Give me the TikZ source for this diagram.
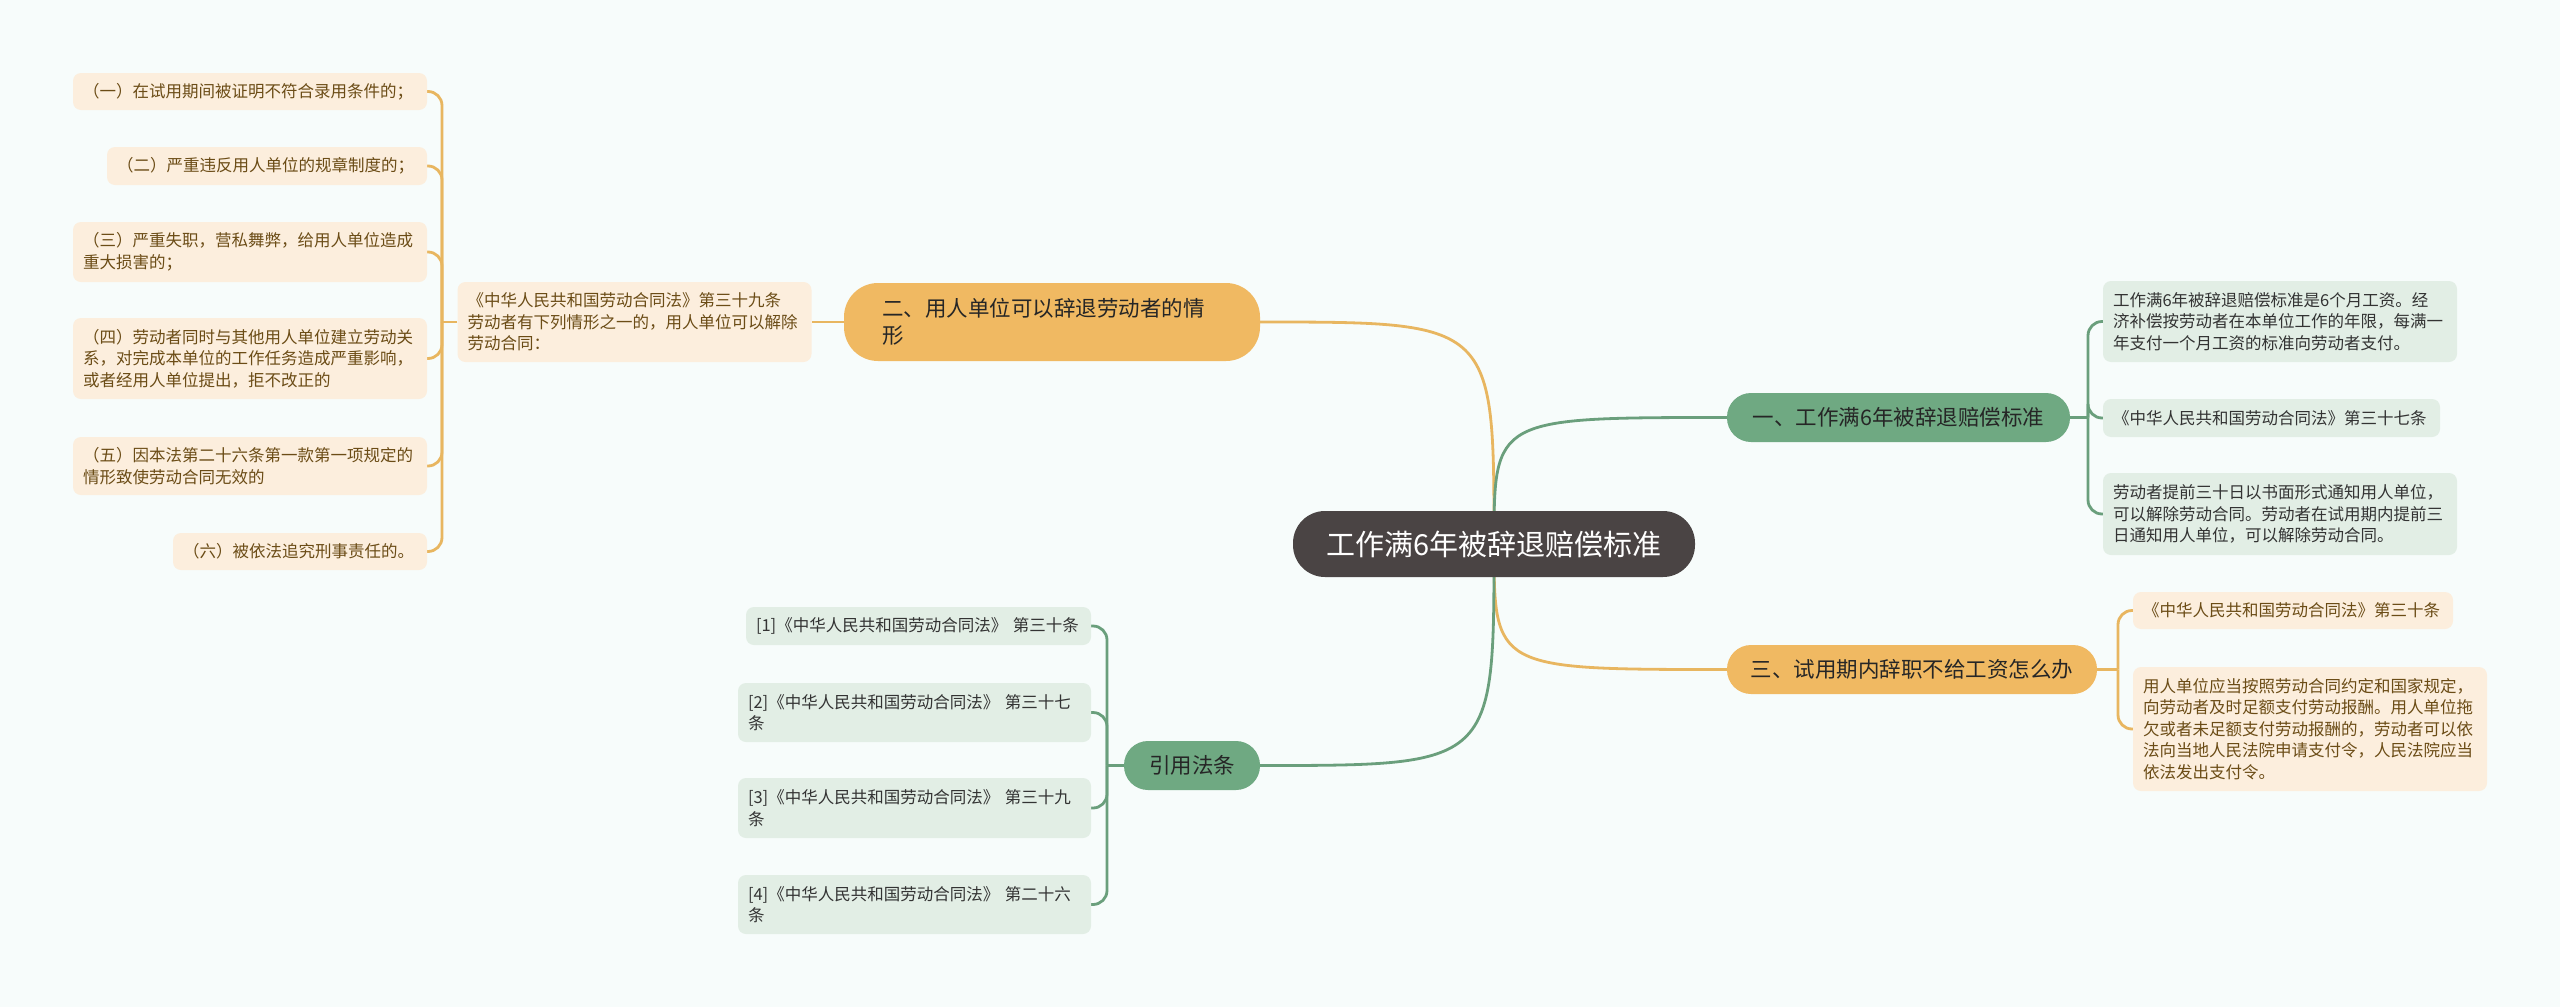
\documentclass[tikz,border=0pt]{standalone}
\usepackage{fontspec}
\setmainfont{Noto Sans CJK SC}
\definecolor{bgc}{HTML}{F7FCFB}
\definecolor{oline}{HTML}{E8B660}
\definecolor{ofill}{HTML}{F0B962}
\definecolor{gline}{HTML}{6A9F7C}
\definecolor{gfill}{HTML}{6FA982}
\definecolor{cfill}{HTML}{4A4444}
\definecolor{peach}{HTML}{FCEEDD}
\definecolor{ptext}{HTML}{6B4C16}
\definecolor{gleaf}{HTML}{E2EEE5}
\definecolor{gtext}{HTML}{333333}
\pgfdeclarelayer{bg}
\pgfdeclarelayer{edges}
\pgfsetlayers{bg,edges,main}
\tikzset{
  leafO/.style={fill=peach, rounded corners=8pt, text=ptext, font=\fontsize{16.5}{21.5}\selectfont, inner xsep=10pt, inner ysep=0pt, align=left},
  leafG/.style={fill=gleaf, rounded corners=8pt, text=gtext, font=\fontsize{16.5}{21.5}\selectfont, inner xsep=10pt, inner ysep=0pt, align=left},
  refG/.style={leafG},
  mainO/.style={fill=ofill, rounded corners=24pt, text={black!85}, font=\fontsize{21.5}{27}\selectfont, inner ysep=0pt, minimum height=49pt},
  mainG/.style={fill=gfill, rounded corners=24pt, text={black!85}, font=\fontsize{21.5}{27}\selectfont, inner ysep=0pt, minimum height=49pt},
  olink/.style={draw=oline, line width=2.8pt},
  glink/.style={draw=gline, line width=2.8pt},
  obr/.style={olink, rounded corners=14pt},
  gbr/.style={glink, rounded corners=14pt},
}
\begin{document}
\begin{tikzpicture}[x=1pt, y=-1pt]
\begin{pgfonlayer}{bg}
\fill[bgc] (0,0) rectangle (2560,1007);
\end{pgfonlayer}
\useasboundingbox (0,0) rectangle (2560,1007);

% central
\node[fill=cfill, rounded corners=32pt, text=white, font=\fontsize{29}{34}\selectfont, minimum width=402pt, minimum height=66pt, inner ysep=0pt] (c) at (1494,544) {工作满6年被辞退赔偿标准};

% main branches
\node[mainO, text width=340pt, inner xsep=38pt, minimum height=78pt, rounded corners=34pt, align=left] (b2) at (1052,322) {二、用人单位可以辞退劳动者的情\\形};
\node[mainG, minimum width=343pt] (b1) at (1898.5,417.5) {一、工作满6年被辞退赔偿标准};
\node[mainO, minimum width=370pt] (b3) at (1912,669.5) {三、试用期内辞职不给工资怎么办};
\node[mainG, minimum width=136pt] (b4) at (1192,765.5) {引用法条};

% left branch (二)
\node[leafO, text width=334pt, minimum height=80pt] (cit) at (634.5,322) {《中华人民共和国劳动合同法》第三十九条\\劳动者有下列情形之一的，用人单位可以解除\\劳动合同：};
\node[leafO, text width=334pt, minimum height=37pt] (i1) at (250,91.5) {（一）在试用期间被证明不符合录用条件的；};
\node[leafO, text width=300pt, minimum height=38pt] (i2) at (267,166) {（二）严重违反用人单位的规章制度的；};
\node[leafO, text width=334pt, minimum height=60pt] (i3) at (250,252) {（三）严重失职，营私舞弊，给用人单位造成\\重大损害的；};
\node[leafO, text width=334pt, minimum height=81pt] (i4) at (250,358.5) {（四）劳动者同时与其他用人单位建立劳动关\\系，对完成本单位的工作任务造成严重影响，\\或者经用人单位提出，拒不改正的};
\node[leafO, text width=334pt, minimum height=58pt] (i5) at (250,466) {（五）因本法第二十六条第一款第一项规定的\\情形致使劳动合同无效的};
\node[leafO, text width=234pt, minimum height=37pt] (i6) at (300,551.5) {（六）被依法追究刑事责任的。};

% right branch (一)
\node[leafG, text width=334pt, minimum height=81pt] (g1) at (2280,321.5) {工作满6年被辞退赔偿标准是6个月工资。经\\济补偿按劳动者在本单位工作的年限，每满一\\年支付一个月工资的标准向劳动者支付。};
\node[leafG, text width=317pt, minimum height=38pt] (g2) at (2271.5,418) {《中华人民共和国劳动合同法》第三十七条};
\node[leafG, text width=334pt, minimum height=82pt] (g3) at (2280,514) {劳动者提前三十日以书面形式通知用人单位，\\可以解除劳动合同。劳动者在试用期内提前三\\日通知用人单位，可以解除劳动合同。};

% right branch (三)
\node[leafO, text width=300pt, minimum height=37pt] (o1) at (2293,610.5) {《中华人民共和国劳动合同法》第三十条};
\node[leafO, text width=334pt, minimum height=124pt] (o2) at (2310,729) {用人单位应当按照劳动合同约定和国家规定，\\向劳动者及时足额支付劳动报酬。用人单位拖\\欠或者未足额支付劳动报酬的，劳动者可以依\\法向当地人民法院申请支付令，人民法院应当\\依法发出支付令。};

% references
\node[refG, text width=325pt, minimum height=38pt] (r1) at (918.5,626) {[1]《中华人民共和国劳动合同法》 第三十条};
\node[refG, text width=333pt, minimum height=59pt] (r2) at (914.5,712.5) {[2]《中华人民共和国劳动合同法》 第三十七\\条};
\node[refG, text width=333pt, minimum height=60pt] (r3) at (914.5,808) {[3]《中华人民共和国劳动合同法》 第三十九\\条};
\node[refG, text width=333pt, minimum height=59pt] (r4) at (914.5,904.5) {[4]《中华人民共和国劳动合同法》 第二十六\\条};

% junction points
\coordinate (tL) at (442,322);
\coordinate (t1) at (2088,417.5);
\coordinate (t3) at (2118,669.5);
\coordinate (t4) at (1107,765.5);

\begin{pgfonlayer}{edges}
% main curves
\draw[olink] (c.center) .. controls (c.center |- b2.east) .. (b2.east);
\draw[glink] (c.center) .. controls (c.center |- b1.west) .. (b1.west);
\draw[olink] (c.center) .. controls (c.center |- b3.west) .. (b3.west);
\draw[glink] (c.center) .. controls (c.center |- b4.east) .. (b4.east);

% 二
\draw[olink] (b2.west) -- (cit.east);
\draw[olink] (cit.west) -- (tL);
\foreach \n in {i1,i2,i3,i4,i5,i6}
  \draw[obr] (tL) -- (tL |- \n.east) -- (\n.east);

% 一
\draw[glink] (b1.east) -- (t1);
\foreach \n in {g1,g2,g3}
  \draw[gbr] (t1) -- (t1 |- \n.west) -- (\n.west);

% 三
\draw[olink] (b3.east) -- (t3);
\foreach \n in {o1,o2}
  \draw[obr] (t3) -- (t3 |- \n.west) -- (\n.west);

% 引用法条
\draw[glink] (b4.west) -- (t4);
\foreach \n in {r1,r2,r3,r4}
  \draw[gbr] (t4) -- (t4 |- \n.east) -- (\n.east);
\end{pgfonlayer}
\end{tikzpicture}
\end{document}
